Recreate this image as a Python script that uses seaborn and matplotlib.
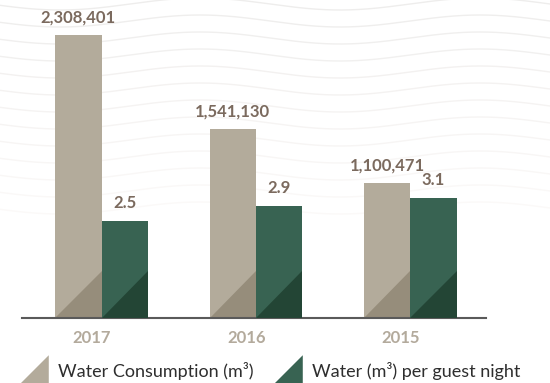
import numpy as np
import pandas as pd
import matplotlib
matplotlib.use("Agg")
import matplotlib.pyplot as plt
import matplotlib.transforms as mtransforms
from matplotlib.patches import Polygon
from matplotlib.lines import Line2D
import seaborn as sns

# ---- data -------------------------------------------------------------
years = ["2017", "2016", "2015"]
consumption = [2308401, 1541130, 1100471]          # m3
per_guest_night = [2.5, 2.9, 3.1]                  # m3 per guest night
series_names = ["Water Consumption (m³)", "Water (m³) per guest night"]

# ---- style ------------------------------------------------------------
sns.set_style("white")
plt.rcParams["font.family"] = ["Lato", "DejaVu Sans"]

beige, beige_dark = "#b3ab9b", "#968d7b"
green, green_dark = "#386352", "#234535"
label_color = "#7b6a5e"
tick_color = "#b3aa9c"

W, H, DPI = 550, 383, 100
fig = plt.figure(figsize=(W / DPI, H / DPI), dpi=DPI)
fig.patch.set_facecolor("white")

# faint wavy background pattern
bg = fig.add_axes([0, 0, 1, 1], zorder=-5)
bg.set_xlim(0, W)
bg.set_ylim(H, 0)
bg.axis("off")
xs = np.linspace(0, W, 400)
for k, base in enumerate(np.arange(4, 215, 17)):
    ys = base + 6 * np.cos(2 * np.pi * (xs - 60) / 280)
    shade = 0.935 + 0.004 * k
    bg.plot(xs, ys, color=(shade, shade * 0.995, shade * 0.99), lw=1.0)

# ---- bars -------------------------------------------------------------
ax = fig.add_axes([22 / W, 65.5 / H, 464 / W, 317.5 / H])
ax.patch.set_alpha(0)
ax2 = ax.twinx()

df_c = pd.DataFrame({"year": years, "value": consumption, "series": series_names[0]})
df_g = pd.DataFrame({"year": years, "value": per_guest_night, "series": series_names[1]})
palette = {series_names[0]: beige, series_names[1]: green}

sns.barplot(data=df_c, x="year", y="value", hue="series", hue_order=series_names,
            order=years, palette=palette, width=0.6, dodge=True, ax=ax,
            legend=False, saturation=1, linewidth=0)
sns.barplot(data=df_g, x="year", y="value", hue="series", hue_order=series_names,
            order=years, palette=palette, width=0.6, dodge=True, ax=ax2,
            legend=False, saturation=1, linewidth=0)

ax.set_xlim(-0.515, 2.49)
ax.set_ylim(0, 2594400)
ax2.set_ylim(0, 8.225)

# value labels
for a, fmt in ((ax, "{:,.0f}"), (ax2, "{:.1f}")):
    for cont in a.containers:
        a.bar_label(cont, fmt=fmt, padding=7, color=label_color,
                    fontsize=12, fontweight="bold")
# the last consumption label sits a touch left so it clears its neighbour
last = ax.texts[-1]
last.set_transform(last.get_transform() +
                   mtransforms.ScaledTranslation(-4 / 72, 0, fig.dpi_scale_trans))

# darker right-angled triangle in the lower right corner of each bar
fig.canvas.draw()
for a, dark in ((ax, beige_dark), (ax2, green_dark)):
    bbox = a.get_window_extent()
    ylo, yhi = a.get_ylim()
    xlo, xhi = a.get_xlim()
    px_per_x = bbox.width / (xhi - xlo)
    for p in a.patches:
        if p.get_height() <= 0 or np.isnan(p.get_height()):
            continue
        x0, w = p.get_x(), p.get_width()
        leg = w * px_per_x * (yhi - ylo) / bbox.height
        tri = Polygon([(x0, 0), (x0 + w, 0), (x0 + w, leg)], closed=True,
                      facecolor=dark, edgecolor="none", zorder=p.get_zorder() + 0.1)
        a.add_patch(tri)

# ---- axes cosmetics ---------------------------------------------------
for a in (ax, ax2):
    for s in ("left", "right", "top"):
        a.spines[s].set_visible(False)
    a.set_xlabel("")
    a.set_ylabel("")
    a.set_yticks([])
ax2.spines["bottom"].set_visible(False)
ax.spines["bottom"].set_color("#5a5a5a")
ax.spines["bottom"].set_linewidth(1.5)
ax.spines["bottom"].set_zorder(10)

ax.tick_params(axis="x", length=0, pad=9, labelsize=12, labelcolor=tick_color)
ax2.tick_params(axis="x", length=0)
offset = mtransforms.ScaledTranslation(-7 / 72, 0, fig.dpi_scale_trans)
for lab in ax.get_xticklabels():
    lab.set_fontweight("bold")
    lab.set_transform(lab.get_transform() + offset)

# ---- legend -----------------------------------------------------------
tri_marker = [(-1, -1), (1, -1), (1, 1), (-1, -1)]
handles = [Line2D([], [], linestyle="none", marker=tri_marker, markersize=22,
                  markerfacecolor=c, markeredgewidth=0) for c in (beige, green)]
fig.legend(handles, series_names, loc="lower left", bbox_to_anchor=(11 / W, -4 / H),
           ncol=2, frameon=False, fontsize=13, handletextpad=0.55,
           columnspacing=1.05, handlelength=1.65, labelcolor="#2e2e2e",
           borderaxespad=0)

fig.savefig("out.png", dpi=DPI, facecolor="white")
